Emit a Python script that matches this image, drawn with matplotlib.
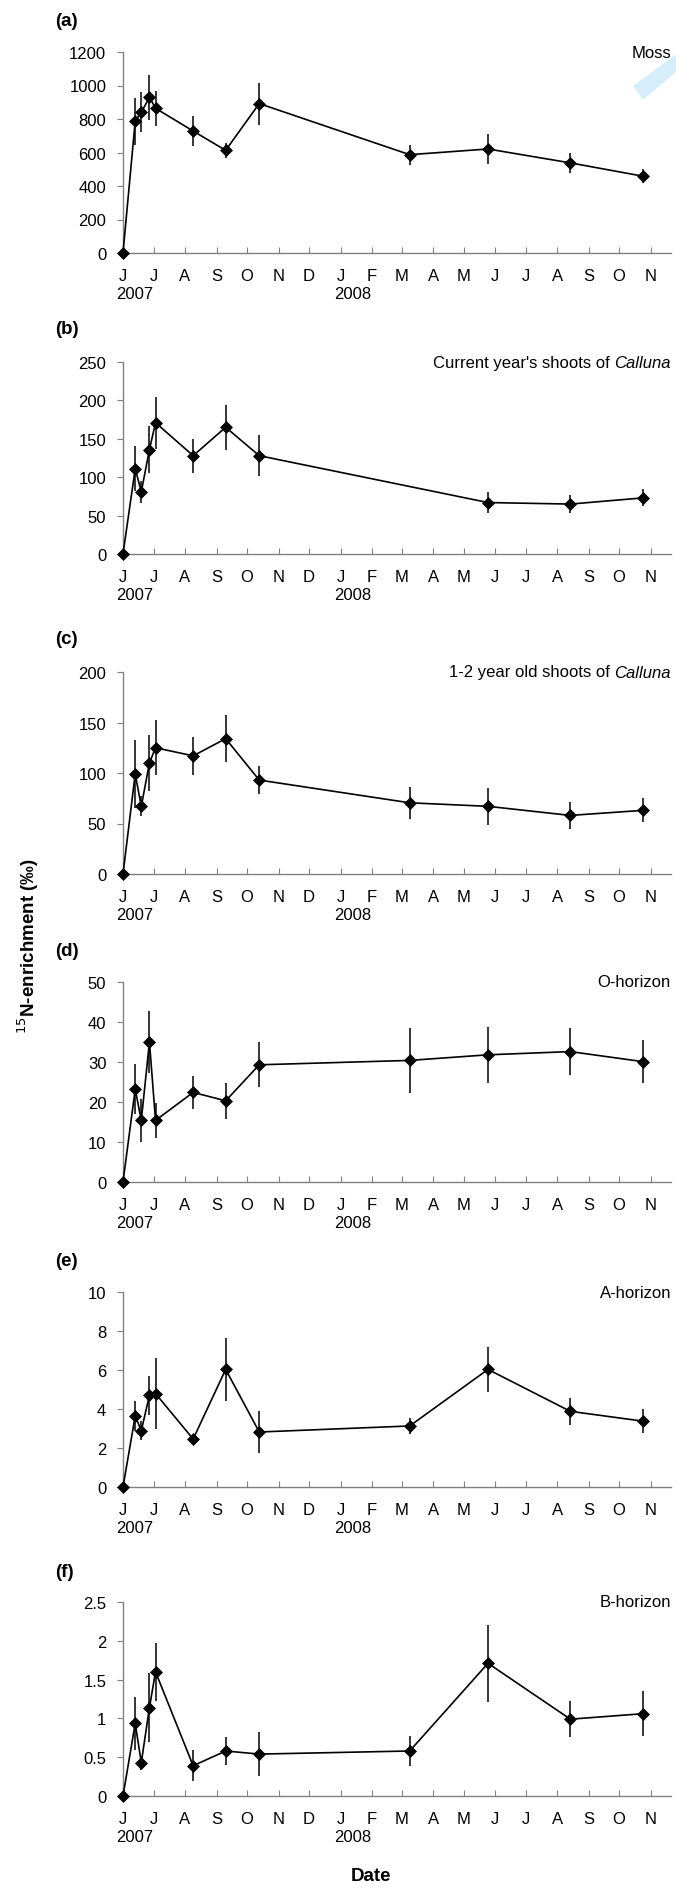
import datetime as dt
import numpy as np
import matplotlib
matplotlib.use("Agg")
import matplotlib.pyplot as plt
import matplotlib.dates as mdates
from matplotlib.ticker import FuncFormatter, MultipleLocator
from matplotlib.patches import Polygon

plt.rcParams['font.family'] = ['Liberation Sans', 'DejaVu Sans']

# fechas de muestreo
fechas = [dt.date(2007, 6, 1), dt.date(2007, 6, 13), dt.date(2007, 6, 19),
          dt.date(2007, 6, 27), dt.date(2007, 7, 3), dt.date(2007, 8, 9),
          dt.date(2007, 9, 10), dt.date(2007, 10, 13), dt.date(2008, 3, 9),
          dt.date(2008, 5, 25), dt.date(2008, 8, 14), dt.date(2008, 10, 24)]

nan = np.nan
moss = [0, 787, 840, 929, 864, 728, 613, 892, 587, 621, 538, 459]
moss_err = [0, 140, 120, 133, 105, 92, 45, 125, 60, 88, 60, 40]

shoots_cur = [0, 111, 81, 136, 171, 128, 165, 128, nan, 67, 65, 73]
shoots_cur_err = [0, 29, 14, 31, 34, 22, 29, 27, nan, 14, 12, 11]

shoots_old = [0, 99, 67, 110, 125, 117, 134, 93, 70.5, 67, 58, 63]
shoots_old_err = [0, 34, 10, 28, 27, 19, 23, 14, 16, 18, 13, 12]

o_hor = [0, 23.2, 15.4, 35.0, 15.4, 22.4, 20.3, 29.3, 30.4, 31.8, 32.6, 30.1]
o_hor_err = [0, 6.2, 5.3, 7.8, 4.3, 4.2, 4.5, 5.6, 8.1, 7.0, 5.8, 5.4]

a_hor = [0, 3.64, 2.89, 4.70, 4.79, 2.46, 6.03, 2.82, 3.13, 6.03, 3.88, 3.38]
a_hor_err = [0, 0.75, 0.5, 1.0, 1.8, 0.1, 1.6, 1.1, 0.43, 1.15, 0.7, 0.6]

b_hor = [0, 0.935, 0.43, 1.14, 1.60, 0.39, 0.58, 0.54, 0.58, 1.71, 0.99, 1.06]
b_hor_err = [0, 0.34, 0.09, 0.45, 0.37, 0.2, 0.18, 0.28, 0.19, 0.5, 0.23, 0.29]

letras = ['(a)', '(b)', '(c)', '(d)', '(e)', '(f)']
titulos = [("Moss", ""), ("Current year's shoots of ", "Calluna"),
           ("1-2 year old shoots of ", "Calluna"), ("O-horizon", ""),
           ("A-horizon", ""), ("B-horizon", "")]
limites = [(1200, 200), (250, 50), (200, 50), (50, 10), (10, 2), (2.5, 0.5)]
series = [(moss, moss_err), (shoots_cur, shoots_cur_err),
          (shoots_old, shoots_old_err), (o_hor, o_hor_err),
          (a_hor, a_hor_err), (b_hor, b_hor_err)]

W, H = 676, 1890
fig = plt.figure(figsize=(W / 100, H / 100), dpi=100)

# posiciones en pixeles (arriba, abajo) de cada panel
filas = [(53, 254), (363, 555), (673, 875), (983, 1183), (1293, 1488), (1603, 1797)]
letra_y = [21, 330, 640, 952, 1262, 1573]
izq, der = 123, 671
gris = '#808080'

for i in range(6):
    top, bot = filas[i]
    ax = fig.add_axes([izq / W, 1 - bot / H, (der - izq) / W, (bot - top) / H])
    vals, errs = series[i]
    x = [f for f, v in zip(fechas, vals) if not np.isnan(v)]
    y = [v for v in vals if not np.isnan(v)]
    e = [v for v in errs if not np.isnan(v)]
    ax.errorbar(x, y, yerr=e, fmt='-D', color='k', ms=5.8, mew=0.5,
                lw=1.2, elinewidth=1.1, capsize=0, clip_on=False, zorder=3)

    ymax, paso = limites[i]
    ax.set_ylim(0, ymax)
    ax.yaxis.set_major_locator(MultipleLocator(paso))
    ax.yaxis.set_major_formatter(FuncFormatter(lambda v, p: '%g' % v))
    ax.set_xlim(dt.date(2007, 6, 1), dt.date(2008, 11, 21))
    ax.xaxis.set_major_locator(mdates.MonthLocator())
    ax.xaxis.set_major_formatter(
        FuncFormatter(lambda v, p: mdates.num2date(v).strftime('%b')[0]))

    for s in ['top', 'right']:
        ax.spines[s].set_visible(False)
    for s in ['left', 'bottom']:
        ax.spines[s].set_color(gris)
        ax.spines[s].set_linewidth(1.0)
    ax.tick_params(axis='x', direction='in', length=4, color=gris, pad=11,
                   labelsize=12)
    ax.tick_params(axis='y', direction='out', length=4, color=gris, pad=8,
                   labelsize=12)

    for anio in [2007, 2008]:
        inicio = dt.date(anio, 6, 1) if anio == 2007 else dt.date(anio, 1, 1)
        ax.annotate(str(anio), xy=(inicio, 0), xycoords=('data', 'axes fraction'),
                    xytext=(8.5, -29.5), textcoords='offset points',
                    ha='center', va='center', fontsize=12)

    normal, cursiva = titulos[i]
    if cursiva:
        t = ax.text(1.0, 1.0, cursiva, transform=ax.transAxes, ha='right',
                    va='center', fontsize=12, style='italic')
        ax.annotate(normal, xy=(0, 0.5), xycoords=t, ha='right', va='center',
                    fontsize=12)
    else:
        ax.text(1.0, 1.0, normal, transform=ax.transAxes, ha='right',
                va='center', fontsize=12)

    fig.text(55 / W, 1 - letra_y[i] / H, letras[i], ha='left', va='center',
             fontsize=13.5, fontweight='bold')

fig.text(28 / W, 1 - 946 / H, '$^{15}$N-enrichment (‰)', rotation=90,
         ha='center', va='center', fontsize=13.5, fontweight='bold')
fig.text(371 / W, 1 - 1877 / H, 'Date', ha='center', va='center',
         fontsize=13.5, fontweight='bold')

# mancha azul clara arriba a la derecha (presente en la imagen original)
fig.patches.append(Polygon([[633 / W, 1 - 87 / H], [1.0, 1 - 55 / H],
                            [1.0, 1 - 73 / H], [643 / W, 1 - 101 / H]],
                           closed=True, transform=fig.transFigure,
                           facecolor='#d6eefb', edgecolor='none', zorder=0))

fig.savefig('out.png', dpi=100)
